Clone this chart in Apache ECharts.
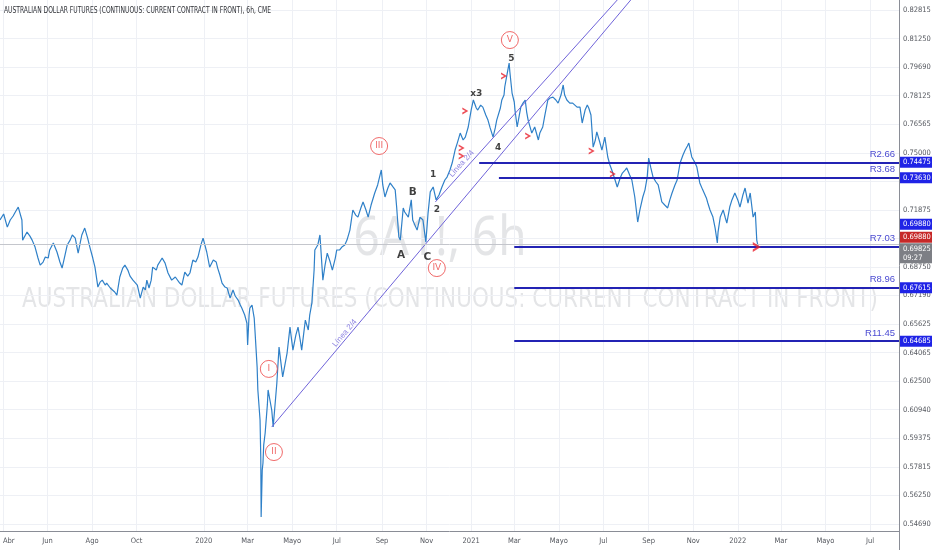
<!DOCTYPE html>
<html>
<head>
<meta charset="utf-8">
<title>6A1!, 6h</title>
<script src="https://cdn.jsdelivr.net/npm/echarts@6/dist/echarts.min.js"></script>
<style>
  html, body { margin: 0; padding: 0; background: #fff; }
  #chart { width: 932px; height: 550px; }
</style>
</head>
<body>
<div id="chart"></div>
<script>
// ---- data ----
const titleText = 'AUSTRALIAN DOLLAR FUTURES (CONTINUOUS: CURRENT CONTRACT IN FRONT), 6h, CME';
const symbolText = '6A1!, 6h';
const nameText = 'AUSTRALIAN DOLLAR FUTURES (CONTINUOUS: CURRENT CONTRACT IN FRONT)';

const startDate = '2019-03-28';
const xRange = ['2019-03-28T00:00:00Z', '2022-08-09T17:00:00Z'];
const yRange = [0.54299, 0.83362];

const xTickDates = ['2019-04-01', '2019-06-01', '2019-08-01', '2019-10-01', '2020-01-01', '2020-03-01', '2020-05-01',
  '2020-07-01', '2020-09-01', '2020-11-01', '2021-01-01', '2021-03-01', '2021-05-01', '2021-07-01', '2021-09-01',
  '2021-11-01', '2022-01-01', '2022-03-01', '2022-05-01', '2022-07-01'];
const xTickLabels = ['Abr', 'Jun', 'Ago', 'Oct', '2020', 'Mar', 'Mayo', 'Jul', 'Sep', 'Nov', '2021', 'Mar', 'Mayo',
  'Jul', 'Sep', 'Nov', '2022', 'Mar', 'Mayo', 'Jul'];

const yTickValues = [0.546875, 0.5625, 0.578125, 0.59375, 0.609375, 0.625, 0.640625, 0.65625, 0.671875, 0.6875,
  0.703125, 0.71875, 0.734375, 0.75, 0.765625, 0.78125, 0.796875, 0.8125, 0.828125];
const yTickLabels = ['0.54690', '0.56250', '0.57815', '0.59375', '0.60940', '0.62500', '0.64065', '0.65625', '0.67190',
  '0.68750', '0.70315', '0.71875', '0.73440', '0.75000', '0.76565', '0.78125', '0.79690', '0.81250', '0.82815'];

// [days since startDate, price]
const priceSeries = [
  [0, 0.7132], [5, 0.7165], [10, 0.7093], [14, 0.7132], [18, 0.7154], [21, 0.7176], [25, 0.7203], [30, 0.7132],
  [31, 0.7022], [37, 0.7066], [41, 0.7044], [44, 0.7022], [48, 0.6984], [52, 0.6924], [55, 0.6885], [59, 0.6902],
  [62, 0.6929], [66, 0.6924], [68, 0.6968], [73, 0.7006], [78, 0.6957], [82, 0.6902], [85, 0.6869], [89, 0.6940],
  [92, 0.6995], [96, 0.7022], [99, 0.7050], [103, 0.7033], [107, 0.6951], [110, 0.7011], [112, 0.7050], [116, 0.7088],
  [120, 0.7033], [123, 0.6984], [127, 0.6924], [130, 0.6874], [134, 0.6765], [137, 0.6792], [140, 0.6803],
  [144, 0.6776], [146, 0.6787], [151, 0.6760], [153, 0.6765], [157, 0.6738], [160, 0.6721], [164, 0.6820],
  [168, 0.6869], [171, 0.6885], [175, 0.6858], [178, 0.6825], [182, 0.6803], [188, 0.6776], [192, 0.6705],
  [196, 0.6765], [199, 0.6749], [201, 0.6803], [204, 0.6760], [207, 0.6803], [209, 0.6874], [214, 0.6858],
  [216, 0.6885], [222, 0.6924], [226, 0.6896], [230, 0.6842], [235, 0.6803], [240, 0.6820], [242, 0.6820],
  [246, 0.6787], [249, 0.6776], [253, 0.6847], [257, 0.6825], [260, 0.6842], [264, 0.6913], [268, 0.6902],
  [271, 0.6929], [275, 0.6995], [278, 0.7033], [283, 0.6957], [287, 0.6874], [292, 0.6913], [296, 0.6902],
  [298, 0.6869], [301, 0.6831], [304, 0.6787], [308, 0.6765], [311, 0.6760], [315, 0.6705], [319, 0.6749],
  [322, 0.6716], [326, 0.6694], [329, 0.6667], [331, 0.6650], [335, 0.6612], [338, 0.6568], [339, 0.6448],
  [341, 0.6612], [342, 0.6650], [345, 0.6667], [348, 0.6595], [349, 0.6530], [352, 0.6327], [353, 0.6202],
  [356, 0.6037], [357, 0.5835], [357.5, 0.5507], [359, 0.5764], [360, 0.5802], [361, 0.5900], [363, 0.5966],
  [366, 0.6120], [367, 0.6202], [370, 0.6136], [372, 0.6092], [374, 0.5999], [379, 0.6240], [382, 0.6437],
  [385, 0.6338], [387, 0.6273], [390, 0.6338], [393, 0.6404], [397, 0.6546], [401, 0.6420], [405, 0.6502],
  [408, 0.6546], [411, 0.6475], [413, 0.6420], [418, 0.6584], [422, 0.6530], [424, 0.6612], [427, 0.6678],
  [430, 0.6858], [431, 0.6968], [435, 0.6995], [438, 0.7050], [442, 0.6803], [445, 0.6885], [448, 0.6951],
  [452, 0.6902], [455, 0.6858], [459, 0.6924], [461, 0.6968], [465, 0.6968], [468, 0.6984], [472, 0.6995],
  [475, 0.7022], [479, 0.7077], [483, 0.7187], [487, 0.7159], [490, 0.7148], [494, 0.7198], [497, 0.7231],
  [501, 0.7187], [504, 0.7148], [508, 0.7214], [513, 0.7280], [517, 0.7324], [522, 0.7406], [524, 0.7324],
  [527, 0.7258], [531, 0.7307], [534, 0.7335], [538, 0.7313], [541, 0.7297], [543, 0.7203], [546, 0.7039],
  [548, 0.7022], [552, 0.7198], [554, 0.7176], [559, 0.7148], [563, 0.7242], [565, 0.7132], [568, 0.7104],
  [571, 0.7077], [575, 0.7148], [579, 0.7132], [583, 0.7011], [586, 0.7170], [589, 0.7286], [593, 0.7313],
  [597, 0.7242], [601, 0.7269], [605, 0.7313], [609, 0.7351], [612, 0.7367], [616, 0.7406], [619, 0.7444],
  [623, 0.7515], [626, 0.7553], [630, 0.7608], [634, 0.7570], [637, 0.7586], [641, 0.7641], [645, 0.7734],
  [648, 0.7789], [652, 0.7745], [654, 0.7734], [658, 0.7761], [661, 0.7750], [665, 0.7707], [668, 0.7679],
  [671, 0.7636], [675, 0.7586], [678, 0.7636], [680, 0.7679], [685, 0.7745], [687, 0.7789], [690, 0.7816],
  [691, 0.7860], [694, 0.7926], [697, 0.7991], [698, 0.7942], [701, 0.7827], [704, 0.7778], [705, 0.7734],
  [708, 0.7641], [711, 0.7707], [713, 0.7750], [716, 0.7772], [719, 0.7789], [721, 0.7723], [723, 0.7679],
  [726, 0.7636], [728, 0.7608], [732, 0.7641], [737, 0.7570], [739, 0.7608], [743, 0.7641], [746, 0.7707],
  [750, 0.7789], [753, 0.7800], [757, 0.7805], [761, 0.7789], [764, 0.7772], [768, 0.7816], [771, 0.7871],
  [773, 0.7816], [776, 0.7789], [780, 0.7772], [784, 0.7772], [790, 0.7750], [794, 0.7750], [797, 0.7663],
  [801, 0.7734], [804, 0.7761], [806, 0.7745], [809, 0.7707], [812, 0.7531], [815, 0.7570], [817, 0.7614],
  [821, 0.7559], [824, 0.7515], [828, 0.7586], [832, 0.7477], [835, 0.7433], [839, 0.7389], [842, 0.7351],
  [845, 0.7313], [849, 0.7362], [852, 0.7389], [856, 0.7406], [858, 0.7417], [862, 0.7378], [865, 0.7351],
  [869, 0.7258], [873, 0.7121], [876, 0.7187], [880, 0.7258], [883, 0.7297], [886, 0.7367], [888, 0.7471],
  [891, 0.7417], [894, 0.7367], [898, 0.7340], [901, 0.7324], [904, 0.7269], [906, 0.7231], [910, 0.7214],
  [914, 0.7198], [917, 0.7242], [920, 0.7280], [924, 0.7324], [927, 0.7351], [931, 0.7444], [935, 0.7488],
  [938, 0.7515], [941, 0.7537], [943, 0.7553], [947, 0.7477], [951, 0.7449], [954, 0.7422], [958, 0.7335],
  [962, 0.7297], [967, 0.7253], [969, 0.7225], [972, 0.7187], [976, 0.7148], [979, 0.7088], [982, 0.7006],
  [983, 0.7066], [986, 0.7148], [990, 0.7187], [993, 0.7143], [995, 0.7115], [999, 0.7203], [1002, 0.7242],
  [1006, 0.7280], [1010, 0.7242], [1013, 0.7203], [1017, 0.7269], [1020, 0.7307], [1024, 0.7225], [1027, 0.7280],
  [1031, 0.7148], [1034, 0.7176], [1036, 0.7022], [1038, 0.6983]
];

const lastPrice = 0.69825;
const countdown = '09:27';
const closeMark = 0.69880;

const levelNames = ['R2.66', 'R3.68', 'R7.03', 'R8.96', 'R11.45'];
const levelValues = [0.74475, 0.73630, 0.69880, 0.67615, 0.64685];
const levelStartDays = [656, 683, 704, 704, 704];

const trendLow = [[372, 0.5999], [876, 0.8396]];
const trendHigh = [[596, 0.7231], [856, 0.8385]];
const trendLabels = [[472, 0.6513, 'Línea 2/4'], [632, 0.7440, 'Línea 2/4']];

const waveCircles = [[368, 0.6317, 'I'], [375, 0.5862, 'II'], [519, 0.7537, 'III'], [598, 0.6869, 'IV'], [698, 0.8117, 'V']];
const waveMarks = [[549, 0.6940, 'A'], [565, 0.7286, 'B'], [585, 0.6929, 'C'], [593, 0.7378, '1'], [598, 0.7187, '2'],
  [652, 0.7822, 'x3'], [682, 0.7526, '4'], [700, 0.8013, '5']];
const arrowMarks = [[637, 0.7729], [632, 0.7526], [632, 0.7482], [690, 0.7920], [723, 0.7592], [810, 0.7510],
  [839, 0.7384], [1036, 0.6984]];

// ---- helpers ----
const DAY = 86400000;
const base = Date.parse(startDate + 'T00:00:00Z');
const ts = d => base + d * DAY;
const xMin = Date.parse(xRange[0]);
const xMax = Date.parse(xRange[1]);
const xTickTs = xTickDates.map(s => Date.parse(s + 'T00:00:00Z'));

const narrow = '"DejaVu Sans Condensed", "Liberation Sans", sans-serif';
const levelColor = '#2323b4';
const tagBlue = '#1f23e6';
const trendColor = '#6f63d9';
const red = '#ec4545';
const trendAngles = [50, 48];

const chart = echarts.init(document.getElementById('chart'));

const option = {
  animation: false,
  backgroundColor: '#ffffff',
  grid: { left: 0, right: 33, top: 0, bottom: 19, outerBoundsMode: 'none' },
  xAxis: {
    type: 'value',
    min: xMin,
    max: xMax,
    axisLine: { show: true, lineStyle: { color: '#8a8d96', width: 1 } },
    axisTick: { show: false, customValues: xTickTs },
    axisLabel: {
      customValues: xTickTs,
      margin: 6,
      fontSize: 7.5,
      fontFamily: narrow,
      color: '#55585f',
      alignMinLabel: 'left',
      formatter: v => {
        const i = xTickTs.findIndex(t => Math.abs(t - v) < 1000);
        return i >= 0 ? xTickLabels[i] : '';
      }
    },
    splitLine: { show: true, lineStyle: { color: '#eef0f5', width: 1 } }
  },
  yAxis: {
    type: 'value',
    position: 'right',
    min: yRange[0],
    max: yRange[1],
    axisLine: { show: true, lineStyle: { color: '#8a8d96', width: 1 } },
    axisTick: { show: false, customValues: yTickValues },
    axisLabel: {
      customValues: yTickValues,
      margin: 4,
      fontSize: 7.5,
      fontFamily: narrow,
      color: '#55585f',
      formatter: v => {
        const i = yTickValues.findIndex(t => Math.abs(t - v) < 1e-7);
        return i >= 0 ? yTickLabels[i] : '';
      }
    },
    splitLine: { show: true, lineStyle: { color: '#eef0f5', width: 1 } }
  },
  series: [
    {
      name: '6A1!',
      type: 'line',
      data: priceSeries.map(([d, p]) => [ts(d), p]),
      showSymbol: false,
      lineStyle: { color: '#2f80c8', width: 1.2 },
      z: 3,
      markLine: {
        silent: true,
        symbol: ['none', 'none'],
        data: [
          {
            yAxis: lastPrice,
            lineStyle: { color: '#c4c6cc', width: 1, type: 'solid' },
            label: { show: false }
          }
        ].concat(levelValues.map((v, i) => [
          { name: levelNames[i], coord: [ts(levelStartDays[i]), v] },
          { coord: [xMax, v] }
        ])),
        lineStyle: { color: levelColor, width: 2, type: 'solid' },
        label: {
          show: true,
          position: 'insideEndTop',
          formatter: '{b}',
          color: '#4b4bd2',
          fontSize: 9.5,
          fontFamily: 'Liberation Sans, sans-serif',
          distance: [4, 3]
        }
      }
    },
    {
      name: 'trend1',
      type: 'line',
      data: trendLow.map(([d, p]) => [ts(d), p]),
      showSymbol: false,
      lineStyle: { color: trendColor, width: 1 },
      z: 4
    },
    {
      name: 'trend2',
      type: 'line',
      data: trendHigh.map(([d, p]) => [ts(d), p]),
      showSymbol: false,
      lineStyle: { color: trendColor, width: 1 },
      z: 4
    },
    {
      name: 'trendLabels',
      type: 'scatter',
      data: trendLabels.map(([d, p, t], i) => ({ value: [ts(d), p], name: t, label: { rotate: trendAngles[i] } })),
      symbolSize: 1,
      itemStyle: { color: 'rgba(0,0,0,0)' },
      label: { show: true, position: 'inside', formatter: '{b}', color: trendColor, fontSize: 8, fontFamily: 'Liberation Sans, sans-serif' },
      z: 5
    },
    {
      name: 'waves',
      type: 'scatter',
      data: waveCircles.map(([d, p, t]) => ({ value: [ts(d), p], name: t })),
      symbol: 'circle',
      symbolSize: 17,
      itemStyle: { color: 'rgba(255,255,255,0.85)', borderColor: red, borderWidth: 1 },
      label: { show: true, position: 'inside', formatter: '{b}', color: red, fontSize: 9, fontFamily: 'DejaVu Sans, sans-serif' },
      z: 6
    },
    {
      name: 'marks',
      type: 'scatter',
      // letters a touch larger than the sub-wave digits
      data: waveMarks.map(([d, p, t]) => ({ value: [ts(d), p], name: t, label: { fontSize: /[A-C]/.test(t) ? 10.5 : 9 } })),
      symbolSize: 1,
      itemStyle: { color: 'rgba(0,0,0,0)' },
      label: {
        show: true, position: 'inside', formatter: '{b}', color: '#111',
        fontWeight: 'bold', fontFamily: 'DejaVu Sans, sans-serif'
      },
      z: 6
    },
    {
      name: 'arrows',
      type: 'scatter',
      data: arrowMarks.map(([d, p]) => [ts(d), p]),
      symbol: 'path://M0,0 L7,5 L0,10 L0,7.4 L3.6,5 L0,2.6 Z',
      symbolSize: (v, params) => params.dataIndex === arrowMarks.length - 1 ? [8, 10] : [6, 7],
      itemStyle: { color: '#e8212c' },
      z: 7
    }
  ]
};

chart.setOption(option);

// axis price tags on the right scale, placed through the y axis
const tagValues = [levelValues[0], levelValues[1], levelValues[2], closeMark, levelValues[3], levelValues[4], lastPrice];
const tagTexts = ['0.74475', '0.73630', '0.69880', '0.69880', '0.67615', '0.64685', '0.69825\n' + countdown];
const tagColors = [tagBlue, tagBlue, tagBlue, '#c62828', tagBlue, tagBlue, '#7d7f85'];
const tagShift = [0, 0, -22, -9, 0, 0, 6];

const graphics = [
  {
    type: 'text', x: 4, y: 11, z: 50, scaleX: 0.74,
    style: { text: titleText, fill: '#2f3136', font: '9px "DejaVu Sans Condensed", sans-serif', verticalAlign: 'middle' }
  },
  {
    type: 'text', x: 440, y: 240, z: -10, silent: true, scaleX: 0.85,
    style: { text: symbolText, fill: 'rgba(120,124,136,0.2)', font: '54px "Noto Sans", sans-serif', align: 'center', verticalAlign: 'middle' }
  },
  {
    type: 'text', x: 450, y: 300, z: -10, silent: true, scaleX: 0.885,
    style: { text: nameText, fill: 'rgba(120,124,136,0.2)', font: '27px "DejaVu Sans Condensed", sans-serif', align: 'center', verticalAlign: 'middle' }
  },
  {
    type: 'line', z: 50, silent: true,
    shape: { x1: 899.5, y1: 531, x2: 899.5, y2: 550 },
    style: { stroke: '#8a8d96', lineWidth: 1 }
  }
];
tagValues.forEach((v, i) => {
  const y = chart.convertToPixel({ yAxisIndex: 0 }, v) + tagShift[i];
  graphics.push({
    type: 'text', x: 900, y: y, z: 60,
    style: {
      text: tagTexts[i], fill: '#ffffff', font: '7.5px ' + narrow,
      backgroundColor: tagColors[i], padding: [1, 3, 1, 3], lineHeight: 9, verticalAlign: 'middle'
    }
  });
});
chart.setOption({ graphic: graphics });
</script>
</body>
</html>
